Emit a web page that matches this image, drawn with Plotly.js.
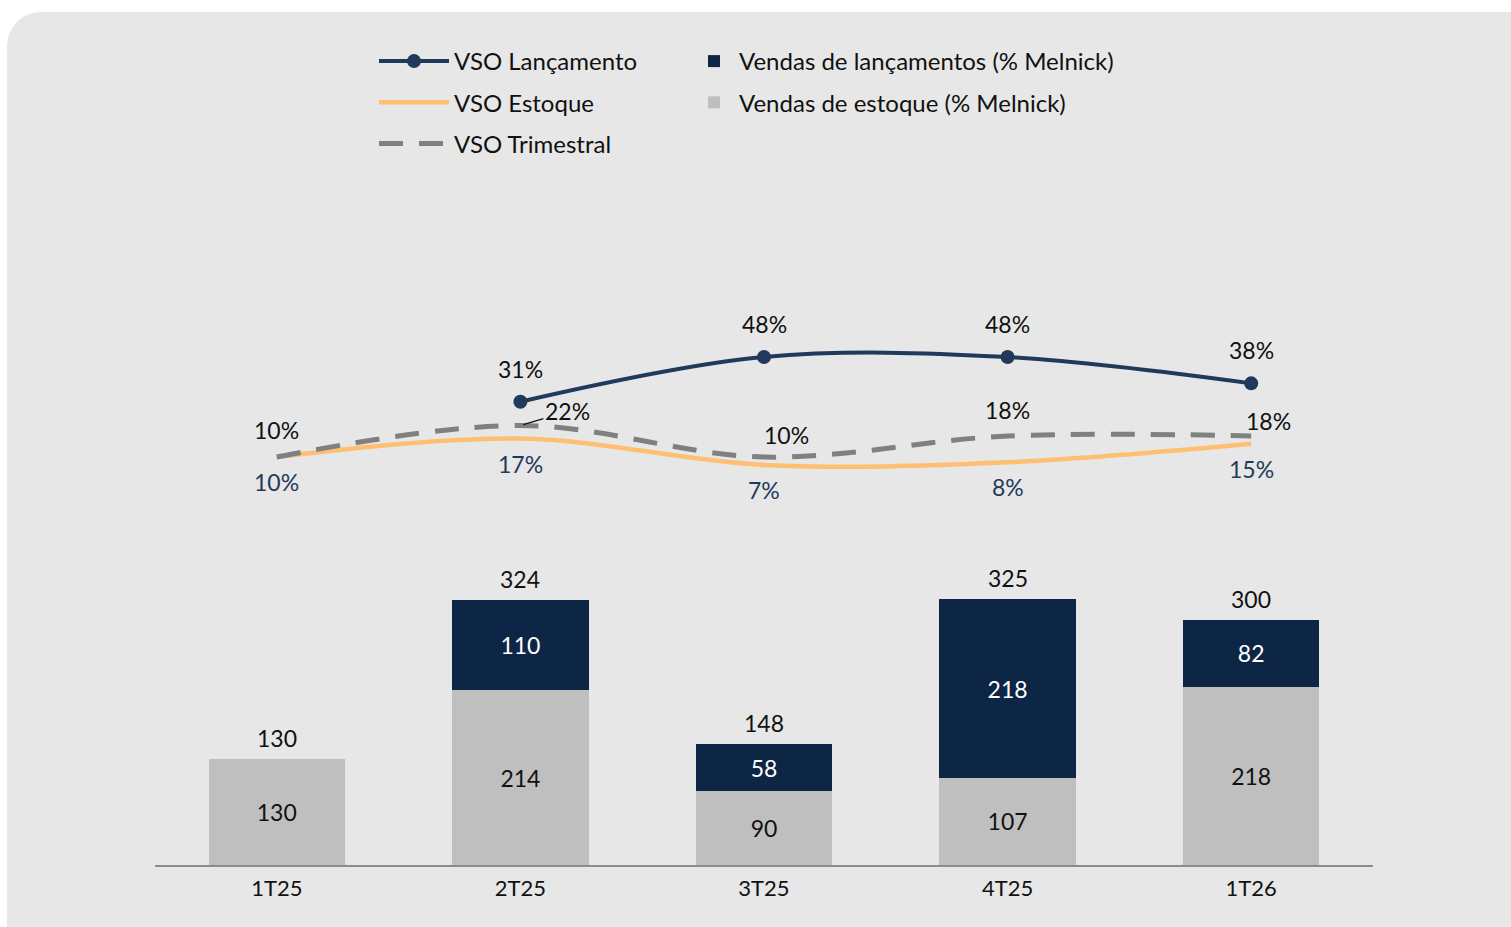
<!DOCTYPE html>
<html>
<head>
<meta charset="utf-8">
<script src="https://cdn.plot.ly/plotly-3.0.1.min.js"></script>
<style>
  html, body { margin: 0; padding: 0; background: #ffffff; width: 1511px; height: 927px; overflow: hidden; }
  #bgcard { position: absolute; left: 7px; top: 12px; width: 1560px; height: 980px; background: #e7e7e7; border-radius: 34px; }
  #chart { position: absolute; left: 0; top: 0; width: 1511px; height: 927px; }
</style>
</head>
<body>
<div id="bgcard"></div>
<div id="chart"></div>
<script>
// ---- data ----
const categories = ["1T25", "2T25", "3T25", "4T25", "1T26"];
const vendasEstoque = [130, 214, 90, 107, 218];
const vendasLancamentos = [null, 110, 58, 218, 82];
const vendasTotal = [130, 324, 148, 325, 300];
const vsoLancamento = [null, 31, 48, 48, 38];
const vsoEstoque = [10, 17, 7, 8, 15];
const vsoTrimestral = [10, 22, 10, 18, 18];

const FONT = "Lato, 'Open Sans', 'Noto Sans', sans-serif";
const NAVY_BAR = "#0e2645";
const NAVY_LINE = "#1f3a5a";
const GRAY_BAR = "#bfbfbf";
const ORANGE = "#ffbf73";
const DASH_GRAY = "#808080";
const LABEL_NAVY = "#1f3a5a";
const LBL = 23;

const traces = [
  {
    type: "bar", name: "Vendas de estoque (% Melnick)", x: categories, y: vendasEstoque,
    marker: { color: GRAY_BAR }, text: vendasEstoque.map(String), textposition: "inside", textangle: 0,
    insidetextanchor: "middle", textfont: { family: FONT, size: LBL, color: "#111111" },
    legend: "legend2", legendrank: 2, legendgroup: "ve", hoverinfo: "skip", cliponaxis: false
  },
  {
    type: "bar", name: "Vendas de lançamentos (% Melnick)", x: categories, y: vendasLancamentos,
    marker: { color: NAVY_BAR }, text: vendasLancamentos.map(v => v == null ? "" : String(v)), textposition: "inside", textangle: 0,
    insidetextanchor: "middle", textfont: { family: FONT, size: LBL, color: "#ffffff" },
    legend: "legend2", legendrank: 1, legendgroup: "vl", hoverinfo: "skip", cliponaxis: false
  },
  {
    type: "scatter", mode: "lines+markers", name: "VSO Lançamento", x: categories, y: vsoLancamento,
    yaxis: "y2", line: { color: NAVY_LINE, width: 4, shape: "spline", smoothing: 1 },
    marker: { color: NAVY_LINE, size: 14 }, legendgroup: "a", legendrank: 1, hoverinfo: "skip"
  },
  {
    type: "scatter", mode: "lines", name: "VSO Estoque", x: categories, y: vsoEstoque,
    yaxis: "y2", line: { color: ORANGE, width: 4.5, shape: "spline", smoothing: 1 },
    legendgroup: "b", legendrank: 2, hoverinfo: "skip"
  },
  {
    type: "scatter", mode: "lines", name: "VSO Trimestral", x: categories, y: vsoTrimestral,
    yaxis: "y2", line: { color: DASH_GRAY, width: 5, shape: "spline", smoothing: 1, dash: "24px,16px" },
    legendgroup: "c", legendrank: 3, hoverinfo: "skip"
  }
];

const annotations = [];
// totals above bars
categories.forEach((c, i) => {
  annotations.push({
    x: c, y: vendasTotal[i], xref: "x", yref: "y", text: String(vendasTotal[i]),
    showarrow: false, yanchor: "middle", yshift: 21,
    font: { family: FONT, size: LBL, color: "#111111" }
  });
});
// VSO Lançamento labels
categories.forEach((c, i) => {
  if (vsoLancamento[i] == null) return;
  annotations.push({
    x: c, y: vsoLancamento[i], xref: "x", yref: "y2", text: vsoLancamento[i] + "%",
    showarrow: false, yanchor: "middle", yshift: 33,
    font: { family: FONT, size: LBL, color: "#111111" }
  });
});
// VSO Estoque labels (below)
categories.forEach((c, i) => {
  annotations.push({
    x: c, y: vsoEstoque[i], xref: "x", yref: "y2", text: vsoEstoque[i] + "%",
    showarrow: false, yanchor: "middle", yshift: -25,
    font: { family: FONT, size: LBL, color: LABEL_NAVY }
  });
});
// VSO Trimestral labels (above, some offset)
const trimShift = [[0, 27], [47, 14], [22, 22], [0, 26], [17, 15]];
categories.forEach((c, i) => {
  const a = {
    x: c, y: vsoTrimestral[i], xref: "x", yref: "y2", text: vsoTrimestral[i] + "%",
    yanchor: "middle", font: { family: FONT, size: LBL, color: "#111111" }
  };
  if (i === 1) {
    Object.assign(a, { showarrow: true, arrowhead: 0, arrowwidth: 1.2, arrowcolor: "#111111",
      ax: trimShift[i][0], ay: -trimShift[i][1], standoff: 3 });
  } else {
    Object.assign(a, { showarrow: false, xshift: trimShift[i][0], yshift: trimShift[i][1] });
  }
  annotations.push(a);
});

const layout = {
  width: 1511, height: 927,
  margin: { l: 155, r: 138, t: 250, b: 62, autoexpand: false },
  paper_bgcolor: "rgba(0,0,0,0)", plot_bgcolor: "rgba(0,0,0,0)",
  font: { family: FONT, size: 22, color: "#111111" },
  barmode: "stack", bargap: 0.44,
  xaxis: {
    type: "category", range: [-0.5, 4.5], showline: true, linecolor: "#8c8c8c", linewidth: 2,
    ticks: "", showgrid: false, zeroline: false, fixedrange: true, automargin: false, ticklabelstandoff: 3,
    tickfont: { family: FONT, size: 22, color: "#111111" }
  },
  yaxis: { range: [0, 752.8], visible: false, showgrid: false, zeroline: false, fixedrange: true },
  yaxis2: { range: [-145.1, 88.7], overlaying: "y", visible: false, showgrid: false, zeroline: false, fixedrange: true },
  showlegend: true,
  legend: {
    xref: "container", yref: "container", x: 374 / 1511, y: 1 - 39 / 927, xanchor: "left", yanchor: "top",
    orientation: "v", bgcolor: "rgba(0,0,0,0)", itemwidth: 70, tracegroupgap: 7,
    font: { family: FONT, size: 24, color: "#111111" }, itemclick: false, itemdoubleclick: false
  },
  legend2: {
    xref: "container", yref: "container", x: 689 / 1511, y: 1 - 39 / 927, xanchor: "left", yanchor: "top",
    orientation: "v", bgcolor: "rgba(0,0,0,0)", itemwidth: 40, tracegroupgap: 7,
    font: { family: FONT, size: 24, color: "#111111" }, itemclick: false, itemdoubleclick: false
  },
  annotations: annotations
};

Plotly.newPlot("chart", traces, layout, { displayModeBar: false, staticPlot: true });
</script>
</body>
</html>
